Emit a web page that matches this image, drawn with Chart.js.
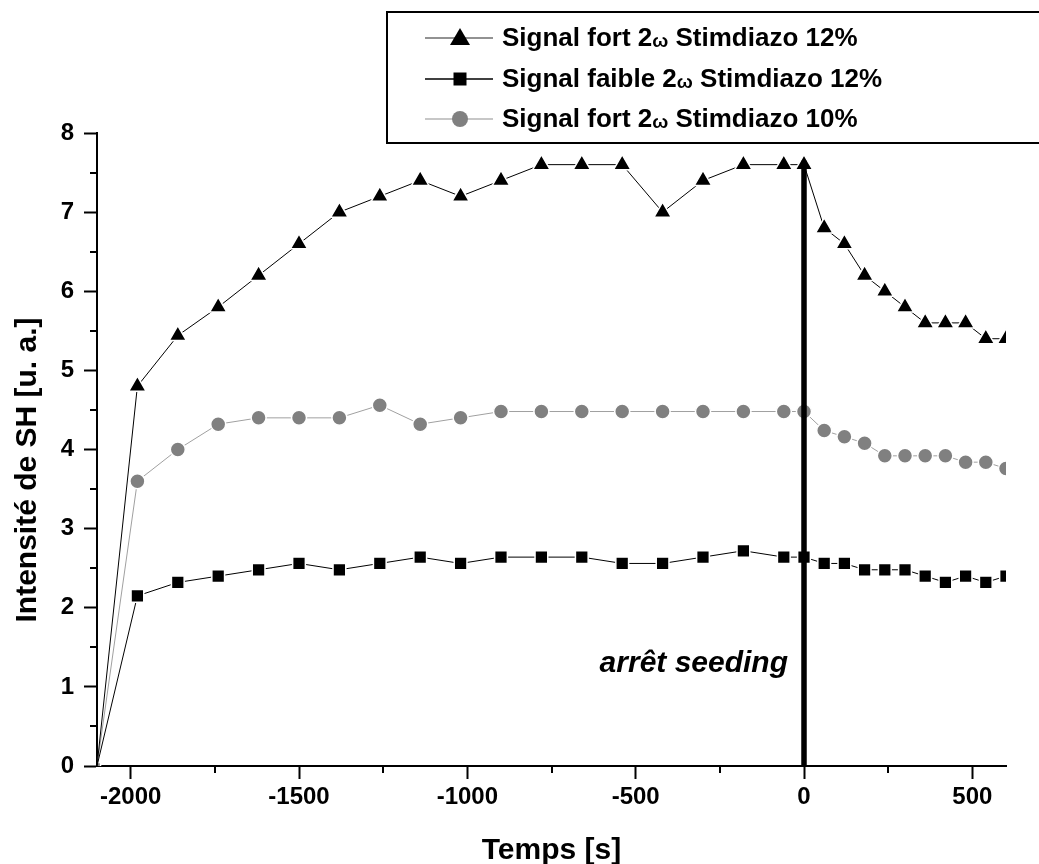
<!DOCTYPE html>
<html>
<head>
<meta charset="utf-8">
<script src="https://cdn.jsdelivr.net/npm/chart.js@4/dist/chart.umd.min.js"></script>
<style>
  html, body { margin: 0; padding: 0; background: #fff; }
  #wrap { width: 1039px; height: 864px; position: relative; }
</style>
</head>
<body>
<div id="wrap"><canvas id="c" width="1039" height="864"></canvas></div>
<script>
// ---- Data ----
const times = [-2100, -1980, -1860, -1740, -1620, -1500, -1380, -1260, -1140, -1020, -900, -780, -660, -540, -420, -300, -180, -60, 0,
               60, 120, 180, 240, 300, 360, 420, 480, 540, 600];
const fort12 = [0, 4.8, 5.44, 5.8, 6.2, 6.6, 7.0, 7.2, 7.4, 7.2, 7.4, 7.6, 7.6, 7.6, 7.0, 7.4, 7.6, 7.6, 7.6,
                6.8, 6.6, 6.2, 6.0, 5.8, 5.6, 5.6, 5.6, 5.4, 5.4];
const faible12 = [0, 2.15, 2.32, 2.40, 2.48, 2.56, 2.48, 2.56, 2.64, 2.56, 2.64, 2.64, 2.64, 2.56, 2.56, 2.64, 2.72, 2.64, 2.64,
                  2.56, 2.56, 2.48, 2.48, 2.48, 2.40, 2.32, 2.40, 2.32, 2.40];
const fort10 = [0, 3.6, 4.0, 4.32, 4.4, 4.4, 4.4, 4.56, 4.32, 4.4, 4.48, 4.48, 4.48, 4.48, 4.48, 4.48, 4.48, 4.48, 4.48,
                4.24, 4.16, 4.08, 3.92, 3.92, 3.92, 3.92, 3.84, 3.84, 3.76];
const seriesLabels = ['Signal fort 2ω Stimdiazo 12%', 'Signal faible 2ω Stimdiazo 12%', 'Signal fort 2ω Stimdiazo 10%'];
const seedingStopX = [0, 0];
const seedingStopY = [0, 7.65];
const annotationText = 'arrêt seeding';
const annotationY = 1.19;
const xMajorTicks = [-2000, -1500, -1000, -500, 0, 500];
const xMinorTicks = [-1750, -1250, -750, -250, 250];
const yMajorTicks = [0, 1, 2, 3, 4, 5, 6, 7, 8];
const yMinorTicks = [0.5, 1.5, 2.5, 3.5, 4.5, 5.5, 6.5, 7.5];
const xTitle = 'Temps [s]';
const yTitle = 'Intensité de SH [u. a.]';

const FONT = '"Liberation Sans", Arial, sans-serif';
const pts = (ys) => times.map((t, i) => ({ x: t, y: ys[i] }));

const styles = [
  { line: '#000000', fill: '#000000', style: 'triangle', r: 10, legLine: '#6e6e6e' },
  { line: '#000000', fill: '#000000', style: 'rect', r: 9, legLine: '#000000' },
  { line: '#a0a0a0', fill: '#808080', style: 'circle', r: 7.5, legLine: '#b4b4b4' }
];

const datasets = [
  {
    label: 'seeding',
    data: seedingStopX.map((x, i) => ({ x: x, y: seedingStopY[i] })),
    showLine: true, borderColor: '#000', borderWidth: 5.5, pointRadius: 0, clip: 0
  },
  ...[fort12, faible12, fort10].map((ys, k) => ({
    label: seriesLabels[k],
    data: pts(ys),
    showLine: true,
    borderColor: styles[k].line,
    borderWidth: 1,
    backgroundColor: styles[k].fill,
    pointBackgroundColor: styles[k].fill,
    pointBorderColor: '#ffffff',
    pointBorderWidth: 1.5,
    pointStyle: (ctx) => (ctx.dataIndex === 0 ? 'rect' : styles[k].style),
    pointRadius: (ctx) => (ctx.dataIndex === 0 ? (k === 2 ? 5 : 0) : styles[k].r),
    pointHoverRadius: (ctx) => (ctx.dataIndex === 0 ? (k === 2 ? 5 : 0) : styles[k].r),
    clip: 0
  }))
];

const extras = {
  id: 'extras',
  afterDraw(chart) {
    const ctx = chart.ctx;
    const xs = chart.scales.x, ys = chart.scales.y;
    const area = chart.chartArea;
    ctx.save();
    // minor ticks
    ctx.strokeStyle = '#000'; ctx.lineWidth = 2;
    xMinorTicks.forEach(v => {
      const px = Math.round(xs.getPixelForValue(v));
      ctx.beginPath(); ctx.moveTo(px, area.bottom); ctx.lineTo(px, area.bottom + 7); ctx.stroke();
    });
    yMinorTicks.forEach(v => {
      const py = Math.round(ys.getPixelForValue(v));
      ctx.beginPath(); ctx.moveTo(area.left, py); ctx.lineTo(area.left - 7, py); ctx.stroke();
    });
    // axis titles
    ctx.fillStyle = '#000';
    ctx.font = 'bold 30px ' + FONT;
    ctx.textAlign = 'center'; ctx.textBaseline = 'alphabetic';
    ctx.fillText(xTitle, (area.left + area.right) / 2, 859);
    ctx.save();
    ctx.translate(36, 470);
    ctx.rotate(-Math.PI / 2);
    ctx.fillText(yTitle, 0, 0);
    ctx.restore();
    // annotation
    ctx.font = 'italic bold 30px ' + FONT;
    ctx.textAlign = 'right';
    ctx.fillText(annotationText, xs.getPixelForValue(0) - 16, ys.getPixelForValue(annotationY));
    // legend
    const bx = 387, by = 12, bw = 700, bh = 131;
    ctx.fillStyle = '#fff';
    ctx.fillRect(bx, by, bw, bh);
    ctx.strokeStyle = '#000'; ctx.lineWidth = 2;
    ctx.strokeRect(bx, by, bw, bh);
    const rows = [38, 79, 119];
    rows.forEach((ry, k) => {
      const st = styles[k];
      ctx.strokeStyle = st.legLine; ctx.lineWidth = 1.5;
      ctx.beginPath(); ctx.moveTo(425, ry); ctx.lineTo(493, ry); ctx.stroke();
      ctx.fillStyle = st.fill;
      ctx.beginPath();
      if (st.style === 'triangle') {
        ctx.moveTo(460, ry - 10); ctx.lineTo(470, ry + 7); ctx.lineTo(450, ry + 7); ctx.closePath();
      } else if (st.style === 'rect') {
        ctx.rect(453.5, ry - 6.5, 13, 13);
      } else {
        ctx.arc(460, ry, 8, 0, Math.PI * 2);
      }
      ctx.fill();
      // label with smaller omega
      const parts = seriesLabels[k].split('ω');
      ctx.fillStyle = '#000';
      ctx.textAlign = 'left'; ctx.textBaseline = 'middle';
      let x = 502;
      ctx.font = 'bold 26px ' + FONT;
      ctx.fillText(parts[0], x, ry + 1);
      x += ctx.measureText(parts[0]).width;
      ctx.font = 'bold 19px ' + FONT;
      ctx.fillText('ω', x, ry + 4);
      x += ctx.measureText('ω').width;
      ctx.font = 'bold 26px ' + FONT;
      ctx.fillText(parts[1], x, ry + 1);
    });
    ctx.restore();
  }
};

new Chart(document.getElementById('c'), {
  type: 'scatter',
  data: { datasets },
  options: {
    responsive: false,
    animation: false,
    devicePixelRatio: 1,
    layout: { padding: { top: 133, right: 33, left: 0, bottom: 0 } },
    plugins: { legend: { display: false }, tooltip: { enabled: false } },
    scales: {
      x: {
        type: 'linear', min: -2100, max: 600,
        afterBuildTicks: (s) => { s.ticks = xMajorTicks.map(v => ({ value: v })); },
        afterFit: (s) => { s.height = 98; },
        grid: { drawOnChartArea: false, drawTicks: true, tickLength: 13, tickWidth: 2, color: '#000' },
        border: { display: true, width: 2, color: '#000' },
        ticks: { color: '#000', padding: 4, maxRotation: 0, autoSkip: false,
                 callback: (v) => String(v),
                 font: { family: FONT, size: 24, weight: 'bold' } }
      },
      y: {
        type: 'linear', min: 0, max: 8,
        afterBuildTicks: (s) => { s.ticks = yMajorTicks.map(v => ({ value: v })); },
        afterFit: (s) => { s.width = 97; },
        grid: { drawOnChartArea: false, drawTicks: true, tickLength: 13, tickWidth: 2, color: '#000' },
        border: { display: true, width: 2, color: '#000' },
        ticks: { color: '#000', padding: 10, autoSkip: false,
                 callback: (v) => String(v),
                 font: { family: FONT, size: 24, weight: 'bold' } }
      }
    }
  },
  plugins: [extras]
});
</script>
</body>
</html>
